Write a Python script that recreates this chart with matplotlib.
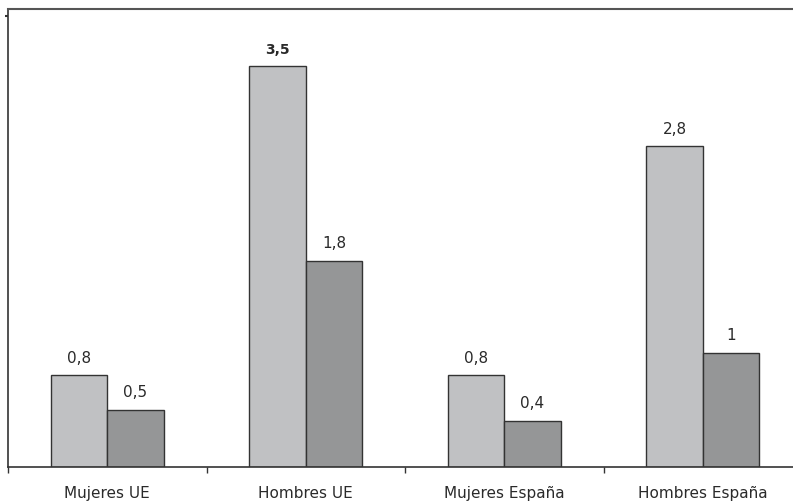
import matplotlib
matplotlib.use("Agg")
import matplotlib.pyplot as plt
import numpy as np

grupos = ["Mujeres UE", "Hombres UE", "Mujeres España", "Hombres España"]
serie_a = [0.8, 3.5, 0.8, 2.8]
serie_b = [0.5, 1.8, 0.4, 1.0]
etiq_a = ["0,8", "3,5", "0,8", "2,8"]
etiq_b = ["0,5", "1,8", "0,4", "1"]

plt.rcParams['font.family'] = ['DejaVu Sans']

fig = plt.figure(figsize=(7.93, 5.01), dpi=100)
ax = fig.add_axes([8/793, 34/501, 794/793, 458/501])

x = np.arange(len(grupos))
w = 0.285
ba = ax.bar(x - w/2, serie_a, w, color="#c0c1c3", edgecolor="#333333", linewidth=1.0)
bb = ax.bar(x + w/2, serie_b, w, color="#959697", edgecolor="#333333", linewidth=1.0)

for r, t in zip(ba, etiq_a):
    bold = t == "3,5"
    ax.annotate(t, (r.get_x() + r.get_width()/2, r.get_height()), xytext=(0, 7),
                textcoords="offset points", ha="center", va="bottom",
                fontsize=10 if bold else 11, fontweight="bold" if bold else "normal",
                color="#2a2a2a")
for r, t in zip(bb, etiq_b):
    ax.annotate(t, (r.get_x() + r.get_width()/2, r.get_height()), xytext=(0, 7),
                textcoords="offset points", ha="center", va="bottom",
                fontsize=11, color="#2a2a2a")

ax.set_xlim(-0.5, 3.5)
ax.set_ylim(0, 4.0)

ax.set_xticks(x)
ax.set_xticklabels(grupos, fontsize=11, color="#2a2a2a")
ax.tick_params(axis="x", which="major", length=0, pad=14)
ax.set_xticks([-0.5, 0.5, 1.5, 2.5], minor=True)
ax.tick_params(axis="x", which="minor", length=4, width=1, color="#333333", direction="out")

ax.set_yticks([3.94])
ax.set_yticklabels([])
ax.tick_params(axis="y", length=2.5, width=1.5, color="#333333", direction="out")

ax.spines["right"].set_visible(False)
ax.spines["top"].set_color("#555555")
ax.spines["top"].set_linewidth(1.5)
ax.spines["left"].set_color("#333333")
ax.spines["bottom"].set_color("#333333")
ax.spines["left"].set_linewidth(1.2)
ax.spines["bottom"].set_linewidth(1.2)

fig.savefig("out.png", dpi=100)
